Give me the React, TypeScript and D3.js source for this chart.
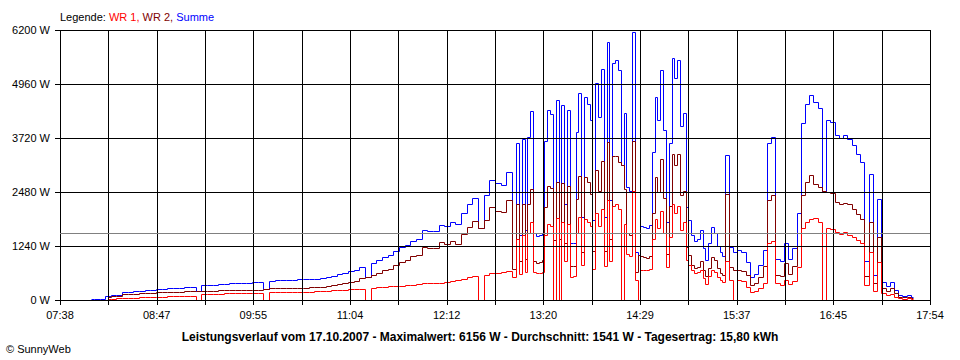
import * as d3 from 'd3';

const VW = 960;
const VH = 360;
const PLOT = { left: 60, right: 930, top: 30, bottom: 300 };

const X_START = '07:38';
const X_END = '17:54';
const X_LABELS = ['07:38', '08:47', '09:55', '11:04', '12:12', '13:20', '14:29', '15:37', '16:45', '17:54'];
const Y_TICKS = [0, 1240, 2480, 3720, 4960, 6200];
const AVG_W = 1541;

const BLUE = '#0000ff';
const RED = '#ff0000';
const DARK_RED = '#800000';
const GRAY = '#808080';
const FONT = "'Liberation Sans', Arial, sans-serif";

const TITLE = 'Leistungsverlauf vom 17.10.2007 - Maximalwert: 6156 W - Durchschnitt: 1541 W - Tagesertrag: 15,80 kWh';

// morning, one reading every 4 minutes
const A_START = '08:00';
const A_STEP = 4;
const SUMME_A = [
  25, 25, 25, 100, 115, 125, 175, 182, 200, 214,
  222, 232, 250, 256, 265, 275, 285, 291, 300, 210,
  340, 345, 355, 365, 375, 385, 390, 395, 400, 402,
  406, 250, 444, 450, 460, 465, 470, 475, 480, 485,
  490, 510, 530, 560, 590, 620, 655, 700, 760, 520,
  860, 920, 990, 1040, 1130, 1210, 1270, 1360, 1400, 1600,
  1590, 1580, 1720, 1700, 1800, 1740, 2000, 2200, 2350, 1650,
  2410, 2750, 2680, 2650, 2950,
];
const WR1_A = [
  null, null, null, 30, 32, 38, 45, 50, 55, 62,
  65, 70, 77, 80, 85, 90, 92, 95, 100, 0,
  130, 135, 140, 145, 150, 153, 155, 158, 160, 163,
  168, 0, 176, 180, 183, 186, 190, 191, 193, 195,
  197, 205, 212, 220, 230, 240, 245, 255, 262, 0,
  285, 300, 306, 318, 321, 330, 344, 350, 360, 383,
  385, 390, 398, 410, 440, 460, 490, 525, 545, 0,
  570, 610, 625, 640, 660,
];
const WR2_A = [
  null, null, null, 70, 83, 87, 130, 132, 145, 152,
  157, 162, 173, 176, 180, 185, 193, 196, 200, 210,
  210, 210, 215, 220, 225, 232, 235, 237, 240, 239,
  238, 250, 268, 270, 277, 279, 280, 284, 287, 290,
  293, 305, 318, 340, 360, 380, 410, 445, 498, 520,
  575, 620, 684, 722, 809, 880, 926, 1010, 1040, 1217,
  1205, 1190, 1322, 1290, 1360, 1280, 1510, 1675, 1805, 1650,
  1840, 2140, 2055, 2010, 2290,
];

// cloudy midday, every 2 minutes
const B_START = '13:00';
const B_STEP = 2;
const SUMME_B = [
  1230, 3600, 1500, 3700, 1600, 3750, 4350, 1550, 1480, 1500,
  1550, 3640, 4360, 4280, 1380, 4590, 1400, 4480, 2200, 4360,
  1300, 1320, 3860, 4750, 1900, 4670, 4500, 4130, 1840, 4975,
  4200, 5300, 1900, 5930, 2300, 5450, 5500, 5280, 3100, 4300,
  2600, 2500, 6156, 1100, 1030, 1700, 1680, 1650, 1720, 3400,
  4670, 4130, 5280, 3900, 1800, 3600, 5550, 5100, 5500, 4000,
  4300, 2140, 1840, 1500, 1350, 1400, 1600, 1200, 920, 1300,
  1680, 1550, 1250, 1100, 1000,
];
const WR1_B = [
  520, 1400, 600, 1500, 650, 1550, 1800, 650, 620, 630,
  640, 1500, 1750, 1700, 0, 1880, 0, 1800, 900, 1750,
  520, 540, 1550, 1900, 800, 1850, 1800, 1700, 720, 2000,
  1700, 2100, 780, 2300, 900, 2150, 2200, 2100, 0, 1750,
  1050, 1000, 2500, 450, 0, 700, 700, 680, 720, 1400,
  1850, 1650, 2050, 1550, 750, 1450, 2200, 2000, 2150, 1600,
  1800, 920, 800, 700, 620, 640, 700, 500, 360, 560,
  690, 640, 520, 470, 420,
];
const WR2_B = [
  710, 2200, 900, 2200, 950, 2200, 2550, 900, 860, 870,
  910, 2140, 2610, 2580, 1380, 2710, 1400, 2680, 1300, 2610,
  780, 780, 2310, 2850, 1100, 2820, 2700, 2430, 1120, 2975,
  2500, 3200, 1120, 3630, 1400, 3300, 3300, 3180, 3100, 2550,
  1550, 1500, 3656, 650, 1030, 1000, 980, 970, 1000, 2000,
  2820, 2480, 3230, 2350, 1050, 2150, 3350, 3100, 3350, 2400,
  2500, 1220, 1040, 800, 730, 760, 900, 700, 560, 740,
  990, 910, 730, 630, 580,
];

// afternoon, every 3 minutes
const C_START = '15:30';
const C_STEP = 3;
const SUMME_C = [
  3330, 1220, 1100, 1150, 1100, 880, 530, 600, 800, 1150,
  3600, 3750, 950, 900, 1300, 950, 1200, 2000, 4060, 4500,
  4710, 4550, 4400, 2500, 4130, 4080, 3800, 3730, 3780, 3700,
  3550, 3350, 3170, 900, 2900, 580, 2330, 420, 330, 410,
  230, 120, 90, 110, 60,
];
const WR1_C = [
  900, 470, 0, 460, 440, 300, 190, 210, 270, 380,
  1300, 1350, 380, 350, 460, 360, 430, 750, 1650, 1800,
  1850, 1880, 1800, 0, 1650, 1620, 1560, 1520, 1560, 1500,
  1450, 1380, 1310, 340, 1100, 200, 880, 150, 120, 140,
  80, 40, 30, 35, 20,
];
const WR2_C = [
  2430, 750, 700, 690, 660, 580, 340, 390, 530, 770,
  2300, 2400, 570, 550, 840, 590, 770, 1250, 2410, 2700,
  2860, 2670, 2600, 2500, 2480, 2460, 2240, 2210, 2220, 2200,
  2100, 1970, 1860, 560, 1800, 380, 1450, 270, 210, 270,
  150, 80, 60, 75, 40,
];

interface Pt { t: number; v: number | null }

const toMin = (s: string) => {
  const [h, m] = s.split(':').map(Number);
  return h * 60 + m;
};

const seg = (start: string, step: number, vals: (number | null)[]): Pt[] =>
  vals.map((v, i) => ({ t: toMin(start) + i * step, v }));

const SUMME = [...seg(A_START, A_STEP, SUMME_A), ...seg(B_START, B_STEP, SUMME_B), ...seg(C_START, C_STEP, SUMME_C)];
const WR1 = [...seg(A_START, A_STEP, WR1_A), ...seg(B_START, B_STEP, WR1_B), ...seg(C_START, C_STEP, WR1_C)];
const WR2 = [...seg(A_START, A_STEP, WR2_A), ...seg(B_START, B_STEP, WR2_B), ...seg(C_START, C_STEP, WR2_C)];

const x0 = toMin(X_START);
const x1 = toMin(X_END);
const xScale = d3.scaleLinear().domain([x0, x1]).range([PLOT.left, PLOT.right]);
const yScale = d3.scaleLinear().domain([0, Y_TICKS[Y_TICKS.length - 1]]).range([PLOT.bottom, PLOT.top]);

// 18 grid intervals, every second one labelled
const GRID_X = d3.range(19).map(k => x0 + (k * (x1 - x0)) / 18);

const px = (v: number) => Math.round(v) + 0.5;

// centred steps, snapped to pixel centres so the 1px lines stay sharp
function stepVertices(pts: Pt[]): [number, number][] {
  const ok = pts.filter(p => p.v != null);
  const out: [number, number][] = [];
  ok.forEach((p, i) => {
    const xc = xScale(p.t);
    const left = i > 0 ? (xScale(ok[i - 1].t) + xc) / 2 : xc;
    const right = i < ok.length - 1 ? (xc + xScale(ok[i + 1].t)) / 2 : xc;
    const yy = px(yScale(p.v as number));
    out.push([px(left), yy], [px(right), yy]);
  });
  return out;
}

const line = d3.line<[number, number]>().x(d => d[0]).y(d => d[1]);

export default function App() {
  return (
    <svg width={VW} height={VH} viewBox={`0 0 ${VW} ${VH}`}
      style={{ position: 'absolute', left: 0, top: 0, background: '#fff', display: 'block' }}
      fontFamily={FONT}>
      <rect x={0} y={0} width={VW} height={VH} fill="#fff" />

      <text x={60} y={20.5} fontSize={11} fill="#000">
        Legende: <tspan fill={RED}>WR 1, </tspan>
        <tspan fill={DARK_RED}>WR 2, </tspan>
        <tspan fill={BLUE}>Summe</tspan>
      </text>

      <path d={line(stepVertices(SUMME)) ?? ''} fill="none" stroke={BLUE} strokeWidth={1} />
      <path d={line(stepVertices(WR2)) ?? ''} fill="none" stroke={DARK_RED} strokeWidth={1} />
      <path d={line(stepVertices(WR1)) ?? ''} fill="none" stroke={RED} strokeWidth={1} />

      {/* grid and average line sit on top of the curves, as in the original */}
      {Y_TICKS.map(t => (
        <g key={`y${t}`}>
          <line x1={PLOT.left - 5} x2={PLOT.right + 0.5} y1={px(yScale(t))} y2={px(yScale(t))}
            stroke="#000" />
          <text x={50} y={yScale(t) + 4} textAnchor="end" fontSize={11} fill="#000">{`${t} W`}</text>
        </g>
      ))}

      {GRID_X.map((t, k) => (
        <line key={`x${k}`} x1={px(xScale(t))} x2={px(xScale(t))} y1={PLOT.top} y2={PLOT.bottom + 5}
          stroke="#000" />
      ))}

      {X_LABELS.map((lab, k) => (
        <text key={lab} x={xScale(GRID_X[k * 2])} y={319} textAnchor="middle" fontSize={11} fill="#000">
          {lab}
        </text>
      ))}

      <line x1={PLOT.left} x2={PLOT.right} y1={px(yScale(AVG_W))} y2={px(yScale(AVG_W))} stroke={GRAY} />

      <text x={480} y={341} textAnchor="middle" fontSize={12} fontWeight={700} fill="#000">{TITLE}</text>
      <text x={6} y={353} fontSize={11} fill="#000">© SunnyWeb</text>
    </svg>
  );
}
